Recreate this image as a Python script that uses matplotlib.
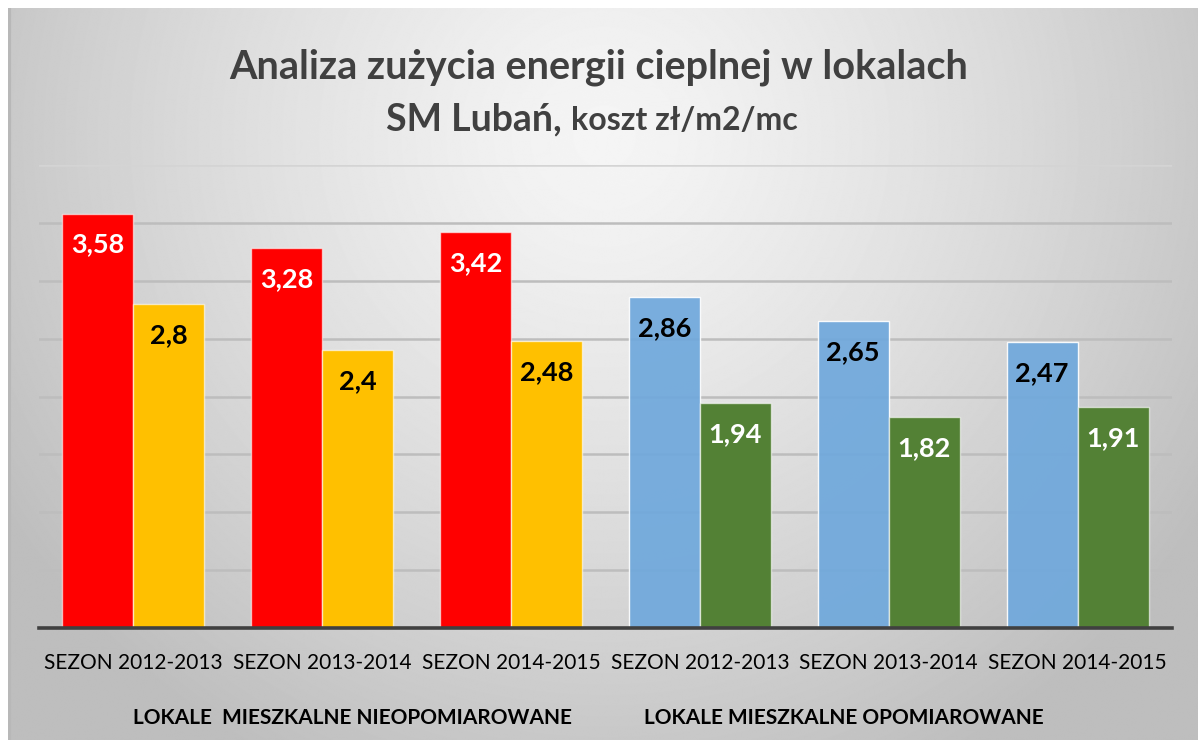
import numpy as np
import matplotlib.pyplot as plt
from matplotlib.transforms import blended_transform_factory

# Dane z wykresu
sezony = ['SEZON 2012-2013', 'SEZON 2013-2014', 'SEZON 2014-2015',
          'SEZON 2012-2013', 'SEZON 2013-2014', 'SEZON 2014-2015']
grupy = ['LOKALE  MIESZKALNE NIEOPOMIAROWANE', 'LOKALE MIESZKALNE OPOMIAROWANE']
seria_1 = [3.58, 3.28, 3.42, 2.86, 2.65, 2.47]
seria_2 = [2.8, 2.4, 2.48, 1.94, 1.82, 1.91]

kolory_1 = ['#FF0000'] * 3 + ['#6FA8DC'] * 3
kolory_2 = ['#FFC000'] * 3 + ['#538135'] * 3
tekst_1 = ['white'] * 3 + ['black'] * 3
tekst_2 = ['black'] * 3 + ['white'] * 3

W, H = 1198, 740
fig = plt.figure(figsize=(W / 100, H / 100), dpi=100)
fig.patch.set_facecolor('white')

# Tło z gradientem (szare brzegi, jasny środek)
bg = fig.add_axes([8 / W, 0, 1 - 8 / W, 1 - 8 / H])
yy, xx = np.mgrid[0:H, 0:W]
r = np.sqrt(((xx - 600) / 700.0) ** 2 + ((yy - 130) / 700.0) ** 2)
val = np.clip(245 - 54 * r ** 1.3, 190, 246) / 255.0
bg.imshow(val, cmap='gray', vmin=0, vmax=1, aspect='auto')
bg.axvline(1, color='#b8b8b8', lw=3)
bg.axis('off')

ax = fig.add_axes([39 / W, (H - 628) / H, (1172 - 39) / W, (628 - 165) / H])
ax.patch.set_alpha(0)

x = np.arange(len(sezony))
w = 0.376
b1 = ax.bar(x - w / 2, seria_1, w, color=kolory_1, edgecolor=(1, 1, 1, 0.6), lw=1, zorder=3)
b2 = ax.bar(x + w / 2, seria_2, w, color=kolory_2, edgecolor=(1, 1, 1, 0.6), lw=1, zorder=3)
for p in b1[3:]:
    p.set_alpha(0.92)

for bars, vals, cols in [(b1, seria_1, tekst_1), (b2, seria_2, tekst_2)]:
    for p, v, c in zip(bars, vals, cols):
        ax.annotate(f'{v:g}'.replace('.', ','), (p.get_x() + p.get_width() / 2, v),
                    xytext=(0, -31), textcoords='offset pixels', ha='center', va='center',
                    fontsize=19.5, fontweight='bold', color=c, family='Lato', zorder=4)

ax.set_xlim(-0.5, 5.5)
ax.set_ylim(0, 4)
for gy in np.arange(0.5, 4.01, 0.5):
    ax.axhline(gy, color='#d4d4d4' if gy == 4 else '#bdbdbd', lw=1.8, zorder=1)
ax.axhline(0, color='#404040', lw=2.6, zorder=5, clip_on=False)
for s in ax.spines.values():
    s.set_visible(False)
ax.set_yticks([])
ax.set_xticks(x)
ax.set_xticklabels(sezony, family='Lato', fontsize=15, color='black')
ax.tick_params(axis='x', length=0, pad=18)

tr = blended_transform_factory(ax.transAxes, fig.transFigure)
ax.text((352 - 39) / 1133, 1 - 718 / H, grupy[0], transform=tr, ha='center', va='center',
        fontsize=15, fontweight='bold', family='Lato')
ax.text((844 - 39) / 1133, 1 - 718 / H, grupy[1], transform=tr, ha='center', va='center',
        fontsize=15, fontweight='bold', family='Lato')

fig.text(0.5, 1 - 67 / H, 'Analiza zużycia energii cieplnej w lokalach', ha='center', va='center',
         fontsize=28.5, fontweight='bold', color='#404040', family='Lato')
fig.text(562 / W, 1 - 119 / H, 'SM Lubań,', ha='right', va='center',
         fontsize=27, fontweight='bold', color='#404040', family='Lato')
fig.text(571 / W, 1 - 121 / H, 'koszt zł/m2/mc', ha='left', va='center',
         fontsize=23, fontweight='bold', color='#404040', family='Lato')

fig.savefig('out.png', dpi=100)
